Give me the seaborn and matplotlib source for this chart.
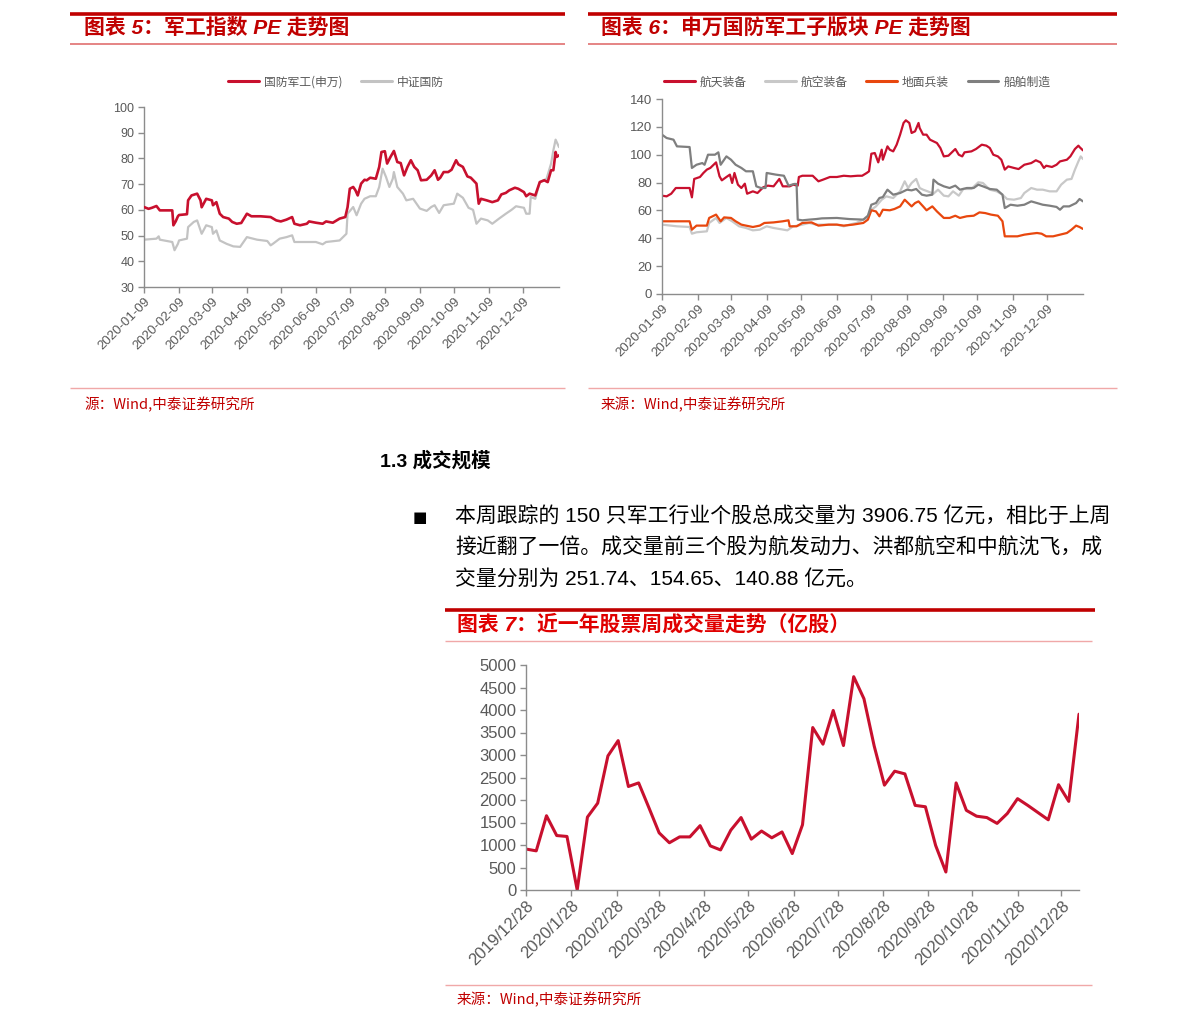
import matplotlib
matplotlib.use("Agg")
import matplotlib.pyplot as plt
import pandas as pd
import seaborn as sns
from matplotlib.lines import Line2D

W, H = 1191, 1028

# ---------------- 图表5 data ----------------
c5_names = ["国防军工(申万)", "中证国防"]
c5_red_dates = ["2020-01-09","2020-01-13","2020-01-16","2020-01-20","2020-01-23","2020-02-03","2020-02-04","2020-02-06","2020-02-08","2020-02-09",
    "2020-02-16","2020-02-17","2020-02-20","2020-02-25","2020-02-28","2020-02-29","2020-03-04","2020-03-09","2020-03-10","2020-03-13",
    "2020-03-16","2020-03-19","2020-03-24","2020-03-27","2020-03-31","2020-04-04","2020-04-09","2020-04-13","2020-04-21","2020-04-30",
    "2020-05-05","2020-05-09","2020-05-14","2020-05-19","2020-05-21","2020-05-26","2020-06-01","2020-06-03","2020-06-09","2020-06-15",
    "2020-06-18","2020-06-24","2020-06-30","2020-07-05","2020-07-07","2020-07-09","2020-07-12","2020-07-14","2020-07-16","2020-07-19",
    "2020-07-22","2020-07-24","2020-07-27","2020-08-01","2020-08-04","2020-08-06","2020-08-09","2020-08-11","2020-08-14","2020-08-17",
    "2020-08-20","2020-08-23","2020-08-26","2020-08-29","2020-09-01","2020-09-04","2020-09-07","2020-09-10","2020-09-15","2020-09-19",
    "2020-09-22","2020-09-25","2020-09-27","2020-09-30","2020-10-04","2020-10-07","2020-10-11","2020-10-13","2020-10-17","2020-10-21",
    "2020-10-24","2020-10-29","2020-10-31","2020-11-02","2020-11-07","2020-11-12","2020-11-17","2020-11-20","2020-11-24","2020-11-27",
    "2020-12-02","2020-12-05","2020-12-10","2020-12-12","2020-12-15","2020-12-20","2020-12-24","2020-12-28","2020-12-31","2021-01-03",
    "2021-01-05","2021-01-07","2021-01-08","2021-01-10"]
c5_red_vals = [61.1,60.4,60.8,61.5,59.8,59.8,54.0,55.5,57.5,58.0,
    58.3,63.7,65.6,66.3,63.7,61.0,64.3,63.7,61.8,63.0,
    58.5,57.2,56.6,55.3,54.6,54.9,58.5,57.5,57.5,57.2,
    55.9,55.5,56.2,57.2,54.6,54.0,54.6,55.5,55.0,54.6,
    55.5,55.0,56.6,57.2,61.0,68.2,68.9,67.6,65.6,70.2,
    71.7,71.5,72.5,72.1,76.7,82.5,82.8,78.0,80.6,82.9,
    78.6,78.2,73.4,76.7,79.3,76.7,75.4,71.5,71.7,73.4,
    75.4,71.7,72.5,74.7,74.7,75.6,79.3,77.7,76.7,73.0,
    72.5,70.2,62.4,64.3,63.7,63.0,63.7,66.0,66.6,67.6,
    68.6,68.2,66.9,65.3,66.3,65.6,70.8,71.5,70.8,75.4,
    75.4,82.5,80.6,81.2]
c5_gray_dates = ["2020-01-09","2020-01-20","2020-01-22","2020-01-23","2020-02-03","2020-02-05","2020-02-08","2020-02-09","2020-02-16","2020-02-17",
    "2020-02-22","2020-02-25","2020-02-29","2020-03-04","2020-03-09","2020-03-10","2020-03-13","2020-03-16","2020-03-22","2020-03-28",
    "2020-04-03","2020-04-09","2020-04-18","2020-04-27","2020-04-30","2020-05-02","2020-05-08","2020-05-14","2020-05-19","2020-05-21",
    "2020-06-01","2020-06-09","2020-06-15","2020-06-18","2020-06-30","2020-07-06","2020-07-07","2020-07-12","2020-07-15","2020-07-19",
    "2020-07-22","2020-07-27","2020-08-01","2020-08-04","2020-08-07","2020-08-10","2020-08-13","2020-08-16","2020-08-17","2020-08-20",
    "2020-08-25","2020-08-28","2020-09-03","2020-09-09","2020-09-15","2020-09-19","2020-09-22","2020-09-26","2020-09-30","2020-10-09",
    "2020-10-12","2020-10-17","2020-10-22","2020-10-26","2020-10-29","2020-11-02","2020-11-08","2020-11-12","2020-11-18","2020-11-24",
    "2020-11-29","2020-12-03","2020-12-10","2020-12-12","2020-12-15","2020-12-16","2020-12-20","2020-12-24","2020-12-30","2021-01-03",
    "2021-01-05","2021-01-07","2021-01-10"]
c5_gray_vals = [48.4,48.8,49.7,48.4,47.5,44.3,46.8,48.1,48.8,53.3,
    55.3,55.9,50.7,54.0,53.3,50.7,52.0,48.1,46.8,45.8,
    45.6,49.4,48.4,47.9,46.2,46.8,48.8,49.4,50.1,47.5,
    47.5,47.5,46.6,47.5,48.1,50.7,58.5,61.1,57.9,62.4,
    64.3,65.3,65.3,68.9,76.0,72.8,68.9,72.1,74.7,68.9,
    66.3,63.7,64.3,60.5,59.6,61.1,61.8,58.8,61.8,62.4,
    66.3,64.7,60.8,60.0,54.6,56.6,55.9,54.6,56.6,58.5,
    60.0,61.4,60.8,58.5,58.5,65.0,64.3,70.8,72.1,78.0,
    83.1,87.3,84.4]
c5_yticks = [30, 40, 50, 60, 70, 80, 90, 100]
c5_xticklabels = ["2020-01-09","2020-02-09","2020-03-09","2020-04-09","2020-05-09","2020-06-09",
                  "2020-07-09","2020-08-09","2020-09-09","2020-10-09","2020-11-09","2020-12-09"]

# ---------------- 图表6 data ----------------
c6_names = ["航天装备", "航空装备", "地面兵装", "船舶制造"]
c6_ht_dates = ["2020-01-09","2020-01-13","2020-01-17","2020-01-21","2020-02-02","2020-02-04","2020-02-06","2020-02-11","2020-02-14","2020-02-17",
    "2020-02-20","2020-02-25","2020-02-28","2020-03-01","2020-03-05","2020-03-08","2020-03-10","2020-03-12","2020-03-15","2020-03-18",
    "2020-03-21","2020-03-23","2020-03-28","2020-04-01","2020-04-06","2020-04-10","2020-04-15","2020-04-20","2020-04-23","2020-04-29",
    "2020-05-02","2020-05-06","2020-05-07","2020-05-10","2020-05-19","2020-05-24","2020-05-28","2020-06-03","2020-06-09","2020-06-15",
    "2020-06-21","2020-06-27","2020-07-01","2020-07-05","2020-07-07","2020-07-09","2020-07-12","2020-07-15","2020-07-18","2020-07-19",
    "2020-07-23","2020-07-25","2020-07-28","2020-07-31","2020-08-03","2020-08-06","2020-08-08","2020-08-11","2020-08-13","2020-08-16",
    "2020-08-19","2020-08-20","2020-08-23","2020-08-26","2020-08-29","2020-09-01","2020-09-04","2020-09-07","2020-09-10","2020-09-14",
    "2020-09-20","2020-09-23","2020-09-26","2020-09-28","2020-10-04","2020-10-08","2020-10-13","2020-10-17","2020-10-20","2020-10-23",
    "2020-10-27","2020-10-30","2020-11-02","2020-11-05","2020-11-10","2020-11-14","2020-11-19","2020-11-25","2020-11-29","2020-12-03",
    "2020-12-06","2020-12-08","2020-12-13","2020-12-17","2020-12-20","2020-12-26","2020-12-29","2021-01-02","2021-01-05","2021-01-06",
    "2021-01-09"]
c6_ht_vals = [70.6,70.1,72.0,76.1,76.1,69.4,82.6,84.0,86.9,89.3,
    90.5,94.5,84.5,81.6,84.0,85.7,79.7,86.9,78.5,76.1,
    79.2,72.0,73.7,72.5,76.6,77.8,77.3,82.6,77.3,77.3,
    78.5,77.8,84.0,84.9,84.9,80.9,82.1,84.0,84.0,84.9,
    84.5,84.9,84.9,86.9,88.1,100.7,101.2,94.5,103.6,96.4,
    106.0,103.6,102.4,107.2,114.4,122.8,124.7,122.8,115.6,116.8,
    122.8,119.2,114.4,114.4,110.8,109.6,108.4,104.8,98.8,99.3,
    104.1,100.0,98.8,101.7,102.4,104.1,107.2,106.5,104.8,100.0,
    98.8,96.4,89.3,91.6,90.5,89.7,92.8,94.0,96.0,94.5,
    90.5,92.1,91.2,92.8,95.2,96.4,98.8,104.1,106.5,105.5,
    103.1]
c6_hk_dates = ["2020-01-09","2020-01-22","2020-02-02","2020-02-04","2020-02-08","2020-02-17","2020-02-19","2020-02-25","2020-02-28","2020-03-05",
    "2020-03-10","2020-03-16","2020-03-22","2020-03-28","2020-04-03","2020-04-09","2020-04-15","2020-04-20","2020-04-27","2020-05-02",
    "2020-05-06","2020-05-10","2020-05-16","2020-05-22","2020-05-27","2020-06-09","2020-06-15","2020-06-20","2020-06-26","2020-07-05",
    "2020-07-09","2020-07-13","2020-07-18","2020-07-22","2020-07-28","2020-08-03","2020-08-07","2020-08-10","2020-08-13","2020-08-17",
    "2020-08-20","2020-08-23","2020-08-27","2020-09-01","2020-09-05","2020-09-10","2020-09-14","2020-09-18","2020-09-23","2020-09-27",
    "2020-10-04","2020-10-10","2020-10-14","2020-10-20","2020-10-26","2020-10-31","2020-11-04","2020-11-10","2020-11-16","2020-11-19",
    "2020-11-25","2020-11-30","2020-12-05","2020-12-11","2020-12-17","2020-12-21","2020-12-26","2020-12-30","2021-01-02","2021-01-05",
    "2021-01-07","2021-01-09"]
c6_hk_vals = [49.8,48.6,48.1,43.3,44.3,45.0,51.0,54.6,51.0,54.6,
    52.2,48.6,47.4,45.7,46.2,48.6,47.4,46.7,45.7,48.6,
    49.1,49.8,51.0,49.8,49.8,49.8,48.6,49.8,51.0,54.6,
    60.5,62.9,67.7,70.1,68.9,73.7,80.9,76.1,79.7,82.6,
    76.1,74.9,73.7,72.0,74.9,70.6,70.1,73.7,70.6,75.4,
    75.4,80.2,79.7,74.9,73.7,71.3,68.2,67.7,68.9,72.5,
    76.1,74.9,74.9,73.7,73.7,78.5,82.1,82.6,89.3,95.2,
    98.8,96.9]
c6_dm_dates = ["2020-01-09","2020-01-22","2020-02-02","2020-02-04","2020-02-08","2020-02-17","2020-02-19","2020-02-25","2020-02-29","2020-03-03",
    "2020-03-09","2020-03-13","2020-03-18","2020-03-22","2020-03-28","2020-04-03","2020-04-07","2020-04-15","2020-04-23","2020-04-28",
    "2020-04-29","2020-05-05","2020-05-10","2020-05-18","2020-05-24","2020-06-02","2020-06-09","2020-06-15","2020-06-23","2020-07-02",
    "2020-07-06","2020-07-09","2020-07-13","2020-07-16","2020-07-19","2020-07-25","2020-07-29","2020-08-03","2020-08-07","2020-08-10",
    "2020-08-13","2020-08-16","2020-08-19","2020-08-23","2020-08-26","2020-08-31","2020-09-04","2020-09-10","2020-09-15","2020-09-20",
    "2020-09-24","2020-09-30","2020-10-06","2020-10-11","2020-10-16","2020-10-21","2020-10-27","2020-10-31","2020-11-02","2020-11-07",
    "2020-11-13","2020-11-19","2020-11-25","2020-11-30","2020-12-04","2020-12-08","2020-12-14","2020-12-20","2020-12-26","2020-12-30",
    "2021-01-03","2021-01-06","2021-01-09"]
c6_dm_vals = [52.2,52.2,52.2,46.2,49.1,49.1,54.6,57.0,52.2,55.0,
    54.6,52.2,49.8,49.1,48.1,49.1,51.0,51.4,52.2,52.9,
    48.6,48.6,51.0,51.4,49.1,49.8,49.8,49.1,49.8,51.0,
    53.4,60.1,59.3,55.8,60.5,60.1,61.0,62.9,67.7,65.3,
    62.9,65.3,66.5,62.9,60.1,62.9,59.3,54.6,54.6,56.2,
    54.6,55.8,56.2,58.6,58.1,57.0,56.2,52.2,41.4,41.4,
    41.4,42.6,43.3,43.8,43.3,41.4,41.4,42.6,43.8,46.2,
    49.1,48.1,46.7]
c6_cb_dates = ["2020-01-09","2020-01-13","2020-01-19","2020-01-22","2020-02-02","2020-02-04","2020-02-08","2020-02-13","2020-02-15","2020-02-18",
    "2020-02-24","2020-02-27","2020-02-29","2020-03-05","2020-03-09","2020-03-13","2020-03-18","2020-03-22","2020-03-28","2020-03-31",
    "2020-04-04","2020-04-08","2020-04-09","2020-04-17","2020-04-24","2020-04-28","2020-05-03","2020-05-05","2020-05-06","2020-05-10",
    "2020-05-16","2020-05-22","2020-05-27","2020-06-09","2020-06-20","2020-07-02","2020-07-06","2020-07-09","2020-07-13","2020-07-16",
    "2020-07-19","2020-07-23","2020-07-28","2020-08-03","2020-08-09","2020-08-13","2020-08-17","2020-08-22","2020-08-26","2020-08-31",
    "2020-09-01","2020-09-05","2020-09-10","2020-09-15","2020-09-20","2020-09-24","2020-09-30","2020-10-06","2020-10-10","2020-10-14",
    "2020-10-20","2020-10-26","2020-10-31","2020-11-02","2020-11-07","2020-11-13","2020-11-19","2020-11-25","2020-11-30","2020-12-05",
    "2020-12-11","2020-12-17","2020-12-20","2020-12-23","2020-12-28","2021-01-03","2021-01-06","2021-01-09"]
c6_cb_vals = [114.4,112.0,110.8,106.0,105.5,90.5,92.8,94.0,92.8,100.0,
    100.0,101.7,92.8,98.8,96.4,92.8,90.5,88.1,88.1,77.3,
    76.1,76.1,86.9,85.7,84.9,77.8,79.0,79.0,53.4,52.9,
    53.4,53.8,54.3,54.6,53.8,53.4,56.2,64.1,65.3,68.9,
    69.6,74.9,71.3,72.5,74.9,74.4,75.4,71.3,70.6,71.3,
    82.1,79.2,77.3,76.1,77.8,74.9,76.1,76.1,78.5,77.3,
    75.4,74.9,71.3,61.7,64.1,63.4,64.1,66.5,65.3,64.1,
    63.4,62.5,60.5,62.9,62.9,65.3,68.2,66.5]
c6_yticks = [0, 20, 40, 60, 80, 100, 120, 140]
c6_xticklabels = c5_xticklabels

# ---------------- 图表7 data ----------------
c7_start = "2019-12-28"
c7_volume = [910, 870, 1650, 1210, 1190, 0, 1620, 1930, 2980, 3320,
             2300, 2380, 1830, 1270, 1050, 1180, 1180, 1430, 980, 890,
             1330, 1610, 1130, 1310, 1160, 1290, 810, 1450, 3610, 3240,
             3990, 3210, 4740, 4250, 3200, 2330, 2640, 2580, 1880, 1850,
             990, 400, 2380, 1770, 1640, 1610, 1480, 1700, 2030, 1880,
             1720, 1560, 2340, 1970, 3907]
c7_yticks = list(range(0, 5001, 500))
c7_xticklabels = ["2019/12/28", "2020/1/28", "2020/2/28", "2020/3/28", "2020/4/28", "2020/5/28",
                  "2020/6/28", "2020/7/28", "2020/8/28", "2020/9/28", "2020/10/28", "2020/11/28",
                  "2020/12/28"]

# ---------------- text ----------------
title5 = "图表 5：军工指数 PE 走势图"
title6 = "图表 6：申万国防军工子版块 PE 走势图"
title7 = "图表 7：近一年股票周成交量走势（亿股）"
source5 = "源：Wind,中泰证券研究所"
source6 = "来源：Wind,中泰证券研究所"
source7 = "来源：Wind,中泰证券研究所"
heading = "1.3 成交规模"
body_lines = ["本周跟踪的 150 只军工行业个股总成交量为 3906.75 亿元，相比于上周",
              "接近翻了一倍。成交量前三个股为航发动力、洪都航空和中航沈飞，成",
              "交量分别为 251.74、154.65、140.88 亿元。"]

# ---------------- style ----------------
sns.set_theme(style="white")
FAM = ["Liberation Sans", "Noto Sans CJK SC", "DejaVu Sans"]
plt.rcParams["font.family"] = FAM
plt.rcParams["axes.unicode_minus"] = False

RED = "#C00000"
LINE_RED = "#C8102E"
TICK_C = "#595959"
AX_C = "#8C8C8C"
CJK = ["Noto Sans CJK SC", "DejaVu Sans"]

fig = plt.figure(figsize=(W / 100, H / 100), dpi=100)


def fx(x):
    return x / W


def fy(y):
    return 1 - y / H


def hline(x0, x1, y, lw, color):
    fig.add_artist(Line2D([fx(x0), fx(x1)], [fy(y), fy(y)], transform=fig.transFigure,
                          lw=lw, color=color, solid_capstyle="butt"))


def axes_px(x0, y0, x1, y1):
    return fig.add_axes([fx(x0), fy(y1), fx(x1) - fx(x0), fy(y0) - fy(y1)])


def style_axes(ax, fs_y, fs_x):
    for s in ["top", "right"]:
        ax.spines[s].set_visible(False)
    for s in ["left", "bottom"]:
        ax.spines[s].set_color(AX_C)
        ax.spines[s].set_linewidth(1.0)
    ax.tick_params(axis="both", which="major", direction="out", length=4, width=1,
                   color=AX_C, labelcolor=TICK_C, left=True, bottom=True)
    ax.tick_params(axis="y", labelsize=fs_y, pad=3)
    ax.tick_params(axis="x", labelsize=fs_x, pad=2)
    ax.set_xlabel("")
    ax.set_ylabel("")
    ax.grid(False)


def set_date_ticks(ax, labels):
    ax.set_xticks(pd.to_datetime(labels))
    ax.set_xticklabels(labels, rotation=45, ha="right", va="top", rotation_mode="anchor")


# ---------------- block frames ----------------
# chart 5 block
hline(70, 565, 14, 2.6, RED)
hline(70, 565, 44, 1.2, "#E07070")
hline(70, 565, 388, 1.0, "#F0A8A8")
fig.text(fx(84), fy(28), title5, color=RED, fontsize=15, fontweight="bold", style="italic",
         ha="left", va="center")
fig.text(fx(84), fy(405), source5, color=RED, fontsize=10.5, ha="left", va="center", family=CJK)
# chart 6 block
hline(588, 1117, 14, 2.6, RED)
hline(588, 1117, 44, 1.2, "#E07070")
hline(588, 1117, 388, 1.0, "#F0A8A8")
fig.text(fx(601), fy(28), title6, color=RED, fontsize=15, fontweight="bold", style="italic",
         ha="left", va="center")
fig.text(fx(601), fy(405), source6, color=RED, fontsize=10.5, ha="left", va="center", family=CJK)

# heading and body text
fig.text(fx(380), fy(461), heading, color="black", fontsize=14, fontweight="bold",
         ha="left", va="center")
fig.text(fx(420), fy(517), "■", color="black", fontsize=11, ha="center", va="center",
         family=["DejaVu Sans"])
for i, line in enumerate(body_lines):
    fig.text(fx(455), fy(517 + 31 * i), line, color="black", fontsize=15, ha="left", va="center")

# chart 7 block
hline(445, 1095, 610, 2.6, RED)
hline(445, 1092, 641, 1.0, "#F0A8A8")
hline(445, 1092, 985, 1.0, "#F0A8A8")
fig.text(fx(457), fy(624), title7, color="#E00000", fontsize=15, fontweight="bold", style="italic",
         ha="left", va="center")
fig.text(fx(457), fy(1000), source7, color=RED, fontsize=10.5, ha="left", va="center", family=CJK)

# ---------------- chart 5 ----------------
df5 = pd.concat([
    pd.DataFrame({"date": pd.to_datetime(c5_red_dates), "PE": c5_red_vals, "s": c5_names[0]}),
    pd.DataFrame({"date": pd.to_datetime(c5_gray_dates), "PE": c5_gray_vals, "s": c5_names[1]}),
])
pal5 = {c5_names[0]: LINE_RED, c5_names[1]: "#C3C3C3"}
ax5 = axes_px(144, 107, 559, 287)
for name, lw, z in [(c5_names[1], 1.6, 2), (c5_names[0], 1.9, 3)]:
    sub = df5[df5["s"] == name]
    sns.lineplot(data=sub, x="date", y="PE", color=pal5[name], lw=lw, ax=ax5, zorder=z,
                 legend=False, estimator=None)
ax5.set_ylim(30, 100)
ax5.set_yticks(c5_yticks)
ax5.set_xlim(df5["date"].min(), df5["date"].max())
style_axes(ax5, 9, 9.5)
set_date_ticks(ax5, c5_xticklabels)
h5 = [Line2D([], [], color=pal5[n], lw=2.2) for n in c5_names]
fig.legend(h5, c5_names, loc="center", bbox_to_anchor=(fx(336), fy(82)), ncol=2, frameon=False,
           handlelength=2.6, columnspacing=1.6, handletextpad=0.4, labelcolor=TICK_C,
           prop={"family": CJK, "size": 8.5})

# ---------------- chart 6 ----------------
pal6 = {"航天装备": LINE_RED, "航空装备": "#C8C8C8", "地面兵装": "#E8470E", "船舶制造": "#7F7F7F"}
df6 = pd.concat([
    pd.DataFrame({"date": pd.to_datetime(c6_ht_dates), "PE": c6_ht_vals, "s": "航天装备"}),
    pd.DataFrame({"date": pd.to_datetime(c6_hk_dates), "PE": c6_hk_vals, "s": "航空装备"}),
    pd.DataFrame({"date": pd.to_datetime(c6_dm_dates), "PE": c6_dm_vals, "s": "地面兵装"}),
    pd.DataFrame({"date": pd.to_datetime(c6_cb_dates), "PE": c6_cb_vals, "s": "船舶制造"}),
])
ax6 = axes_px(662, 99, 1083, 294)
sns.lineplot(data=df6, x="date", y="PE", hue="s", hue_order=c6_names, palette=pal6, lw=1.6,
             ax=ax6, legend=False, estimator=None)
ax6.set_ylim(0, 140)
ax6.set_yticks(c6_yticks)
ax6.set_xlim(df6["date"].min(), df6["date"].max())
style_axes(ax6, 9.5, 9.5)
set_date_ticks(ax6, c6_xticklabels)
h6 = [Line2D([], [], color=pal6[n], lw=2.2) for n in c6_names]
fig.legend(h6, c6_names, loc="center", bbox_to_anchor=(fx(857), fy(82)), ncol=4, frameon=False,
           handlelength=2.6, columnspacing=1.6, handletextpad=0.4, labelcolor=TICK_C,
           prop={"family": CJK, "size": 8.5})

# ---------------- chart 7 ----------------
df7 = pd.DataFrame({"week": pd.date_range(c7_start, periods=len(c7_volume), freq="7D"),
                    "vol": c7_volume})
ax7 = axes_px(526, 665, 1079, 890)
sns.lineplot(data=df7, x="week", y="vol", color=LINE_RED, lw=2.2, ax=ax7, legend=False,
             estimator=None)
ax7.set_ylim(0, 5000)
ax7.set_yticks(c7_yticks)
ax7.set_xlim(df7["week"].min(), df7["week"].max())
style_axes(ax7, 12, 12)
xt7 = [pd.Timestamp(int(s.split("/")[0]), int(s.split("/")[1]), int(s.split("/")[2])) for s in c7_xticklabels]
ax7.set_xticks(xt7)
ax7.set_xticklabels(c7_xticklabels, rotation=45, ha="right", va="top", rotation_mode="anchor")

fig.savefig("out.png", dpi=100)
